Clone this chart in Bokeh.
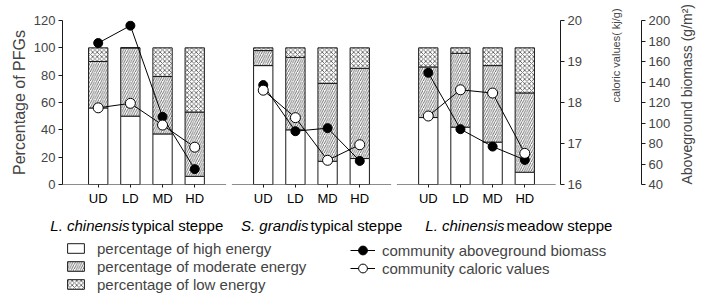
import numpy as np
from bokeh.plotting import figure
from bokeh.models import (Range1d, LinearAxis, FixedTicker, ColumnDataSource,
                          Legend, LegendItem, Arrow)
from bokeh.core.properties import value
from bokeh.embed import file_html
from bokeh.resources import INLINE

# ---------------- data ----------------
group_species = ["L. chinensis", "S. grandis", "L. chinensis"]
group_type = ["typical steppe", "typical steppe", "meadow steppe"]
categories = ["UD", "LD", "MD", "HD"]

# percentage of PFGs (high / moderate / low energy), per steppe
high_LC_typ = [56, 50, 37, 6]
moderate_LC_typ = [34, 50, 42, 47]
low_LC_typ = [10, 0, 21, 47]

high_SG_typ = [87, 40, 17, 19]
moderate_SG_typ = [11, 53, 57, 66]
low_SG_typ = [2, 7, 26, 15]

high_LC_mea = [49, 42, 31, 9]
moderate_LC_mea = [37, 54, 56, 58]
low_LC_mea = [14, 4, 13, 33]

# community aboveground biomass (g/m2)
biomass_LC_typ = [178, 195, 106, 55]
biomass_SG_typ = [137, 92, 95, 63]
biomass_LC_mea = [149, 94, 77, 64]

# community caloric values (kJ/g)
caloric_LC_typ = [17.87, 17.98, 17.45, 16.91]
caloric_SG_typ = [18.30, 17.63, 16.59, 16.97]
caloric_LC_mea = [17.67, 18.31, 18.23, 16.76]

pct_ticks = [0, 20, 40, 60, 80, 100, 120]
cal_ticks = [16, 17, 18, 19, 20]
bio_ticks = [40, 60, 80, 100, 120, 140, 160, 180, 200]

high = [high_LC_typ, high_SG_typ, high_LC_mea]
moderate = [moderate_LC_typ, moderate_SG_typ, moderate_LC_mea]
low = [low_LC_typ, low_SG_typ, low_LC_mea]
biomass = [biomass_LC_typ, biomass_SG_typ, biomass_LC_mea]
caloric = [caloric_LC_typ, caloric_SG_typ, caloric_LC_mea]

# ---------------- layout constants ----------------
FONT = "Liberation Sans"
INK = "#1a1a1a"
W = 706
TOP_H = 208
BOT_H = 294 - TOP_H
FRAME_L, FRAME_R = 62, 578
GAP = 1.13          # extra space between steppe groups (category units)
PAD = 1.11          # outer padding
ncat = len(categories)
ngrp = len(group_species)
step = ncat + GAP

xs, labels = [], {}
for g in range(ngrp):
    for k, c in enumerate(categories):
        xv = float(g * step + k)
        xs.append(xv)
        labels[xv] = c

x_start = -PAD
x_end = xs[-1] + PAD

p = figure(width=W, height=TOP_H, output_backend="svg", toolbar_location=None,
           x_range=Range1d(x_start, x_end), y_range=Range1d(0, 120),
           min_border_left=FRAME_L, min_border_right=W - FRAME_R, min_border_top=20,
           min_border_bottom=22)
p.outline_line_color = None
p.xgrid.visible = False
p.ygrid.visible = False
p.extra_y_ranges = {"cal": Range1d(16, 20), "bio": Range1d(40, 200)}

# bars
src = ColumnDataSource(dict(
    x=xs,
    high=[v for grp in high for v in grp],
    moderate=[v for grp in moderate for v in grp],
    low=[v for grp in low for v in grp],
))
bar_style = dict(fill_color="white", line_color=INK, line_width=1,
                 hatch_color="#333333", hatch_scale=4.5, hatch_weight=0.7)
hatches = [" ", "/", "x"]
bars = p.vbar_stack(["high", "moderate", "low"], x="x", width=0.6, source=src,
                    hatch_pattern=hatches, **bar_style)

# lines + markers
bio_style = dict(marker="circle", size=9, fill_color="black", line_color="black")
cal_style = dict(marker="circle", size=10, fill_color="white", line_color="black", line_width=1)
for g in range(ngrp):
    gx = xs[g * ncat:(g + 1) * ncat]
    s_bio = ColumnDataSource(dict(x=gx, y=biomass[g]))
    s_cal = ColumnDataSource(dict(x=gx, y=caloric[g]))
    p.line("x", "y", source=s_bio, y_range_name="bio", line_color="black", line_width=1)
    p.line("x", "y", source=s_cal, y_range_name="cal", line_color="black", line_width=1)
    p.scatter("x", "y", source=s_bio, y_range_name="bio", **bio_style)
    p.scatter("x", "y", source=s_cal, y_range_name="cal", **cal_style)

# x axis (ticks + labels; axis line drawn per panel)
xa = p.xaxis[0]
xa.ticker = FixedTicker(ticks=xs)
xa.major_label_overrides = labels
xa.axis_line_color = None
xa.major_tick_out = 3
xa.major_tick_in = 0
xa.minor_tick_line_color = None
xa.major_tick_line_color = INK
xa.major_label_standoff = 3
xa.major_label_text_font = FONT
xa.major_label_text_font_size = "13px"
xa.major_label_text_color = "black"

delta = 0.09
bounds = [x_start]
for g in range(ngrp - 1):
    bounds.append(xs[(g + 1) * ncat - 1] + 0.5 + GAP / 2)
bounds.append(x_end)
for g in range(ngrp):
    a = bounds[g] + (delta if g > 0 else 0)
    b = bounds[g + 1] - (delta if g < ngrp - 1 else 0.15)
    p.add_layout(Arrow(x_start=a, y_start=0, x_end=b, y_end=0, start=None, end=None,
                       line_color=INK, line_width=1))

# left axis
ya = p.yaxis[0]
ya.ticker = FixedTicker(ticks=pct_ticks)
ya.axis_label = "Percentage of PFGs"
ya.axis_label_text_font = FONT
ya.axis_label_text_font_size = "16px"
ya.axis_label_text_font_style = "normal"
ya.axis_label_standoff = 3
ya.major_tick_out = 4
ya.major_tick_in = 0
ya.minor_tick_line_color = None
ya.major_label_standoff = 3
ya.major_label_text_font = FONT
ya.major_label_text_font_size = "13px"
ya.axis_line_color = INK
ya.major_tick_line_color = INK


def style_right(ax, label, size, standoff, align):
    ax.major_tick_out = 4
    ax.major_tick_in = 0
    ax.minor_tick_line_color = None
    ax.major_label_standoff = 3
    ax.major_label_text_font = FONT
    ax.major_label_text_font_size = "13px"
    ax.axis_line_color = INK
    ax.major_tick_line_color = INK
    ax.axis_label = label
    ax.axis_label_text_font = FONT
    ax.axis_label_text_font_size = size
    ax.axis_label_text_font_style = "normal"
    ax.axis_label_standoff = standoff
    try:
        ax.axis_label_orientation = np.pi / 2   # read bottom-to-top
        ax.axis_label_align = align
    except Exception:
        pass


cal_axis = LinearAxis(y_range_name="cal", ticker=FixedTicker(ticks=cal_ticks))
style_right(cal_axis, "caloric values( kj/g)", "11px", 31, "center")
p.add_layout(cal_axis, "right")

# invisible spacer between the two right-hand axes
spacer = LinearAxis(y_range_name="cal", ticker=FixedTicker(ticks=[cal_ticks[0]]),
                    major_label_overrides={cal_ticks[0]: ""},
                    axis_line_color=None, major_tick_line_color=None,
                    minor_tick_line_color=None, major_tick_out=11, major_tick_in=0,
                    minor_tick_out=0, major_label_standoff=0,
                    major_label_text_font_size="1px")
p.add_layout(spacer, "right")

bio_axis = LinearAxis(y_range_name="bio", ticker=FixedTicker(ticks=bio_ticks))
style_right(bio_axis, "Aboveground biomass (g/m²)", "14px", 14, "start")
p.add_layout(bio_axis, "right")

# ---------------- bottom strip: group names + legends ----------------
q = figure(width=W, height=BOT_H, output_backend="svg", toolbar_location=None,
           x_range=Range1d(0, W), y_range=Range1d(294, TOP_H),
           x_axis_location=None, y_axis_location=None,
           min_border_left=0, min_border_right=0, min_border_top=0, min_border_bottom=0)
q.outline_line_color = None
q.xgrid.visible = False
q.ygrid.visible = False


def to_px(xv):
    return FRAME_L + (xv - x_start) * (FRAME_R - FRAME_L) / (x_end - x_start)


split_offsets = [-19, -11, 14]
centers = [to_px((xs[g * ncat] + xs[(g + 1) * ncat - 1]) / 2) + split_offsets[g] for g in range(ngrp)]
gsrc = ColumnDataSource(dict(x=centers, y=[225] * ngrp, sp=group_species, ty=group_type))
q.text(x="x", y="y", text="sp", source=gsrc, x_offset=-1, text_align="right",
       text_baseline="middle", text_font=value(FONT), text_font_size="15px",
       text_font_style="italic", text_color="black")
q.text(x="x", y="y", text="ty", source=gsrc, x_offset=1, text_align="left",
       text_baseline="middle", text_font=value(FONT), text_font_size="15px",
       text_color="black")

# proxy renderers (no visible data) carrying the legend styles
nan = [float("nan")]
leg_bars = [q.vbar(x=nan, top=nan, width=0.6, hatch_pattern=h, **bar_style) for h in hatches]
leg_bio = [q.line(x=nan, y=nan, line_color="black", line_width=1), q.scatter(x=nan, y=nan, **bio_style)]
leg_cal = [q.line(x=nan, y=nan, line_color="black", line_width=1), q.scatter(x=nan, y=nan, **cal_style)]

leg_common = dict(orientation="vertical", padding=0, margin=0, border_line_color=None,
                  background_fill_alpha=0, label_text_font=FONT,
                  label_text_font_size="15px", label_height=18, spacing=0)
leg1 = Legend(items=[
    LegendItem(label="percentage of high energy", renderers=[leg_bars[0]]),
    LegendItem(label="percentage of moderate energy", renderers=[leg_bars[1]]),
    LegendItem(label="percentage of low energy", renderers=[leg_bars[2]]),
], location=(65, 1), glyph_width=21, glyph_height=12, label_standoff=11, **leg_common)
leg2a = Legend(items=[LegendItem(label="community aboveground biomass", renderers=leg_bio)],
               location=(350, 33), glyph_width=25, glyph_height=22, label_standoff=7,
               **leg_common)
leg2b = Legend(items=[LegendItem(label="community caloric values", renderers=leg_cal)],
               location=(350, 15), glyph_width=25, glyph_height=22, label_standoff=7,
               **leg_common)
q.add_layout(leg1)
q.add_layout(leg2a)
q.add_layout(leg2b)

open("out.html", "w").write(file_html([p, q], INLINE))
